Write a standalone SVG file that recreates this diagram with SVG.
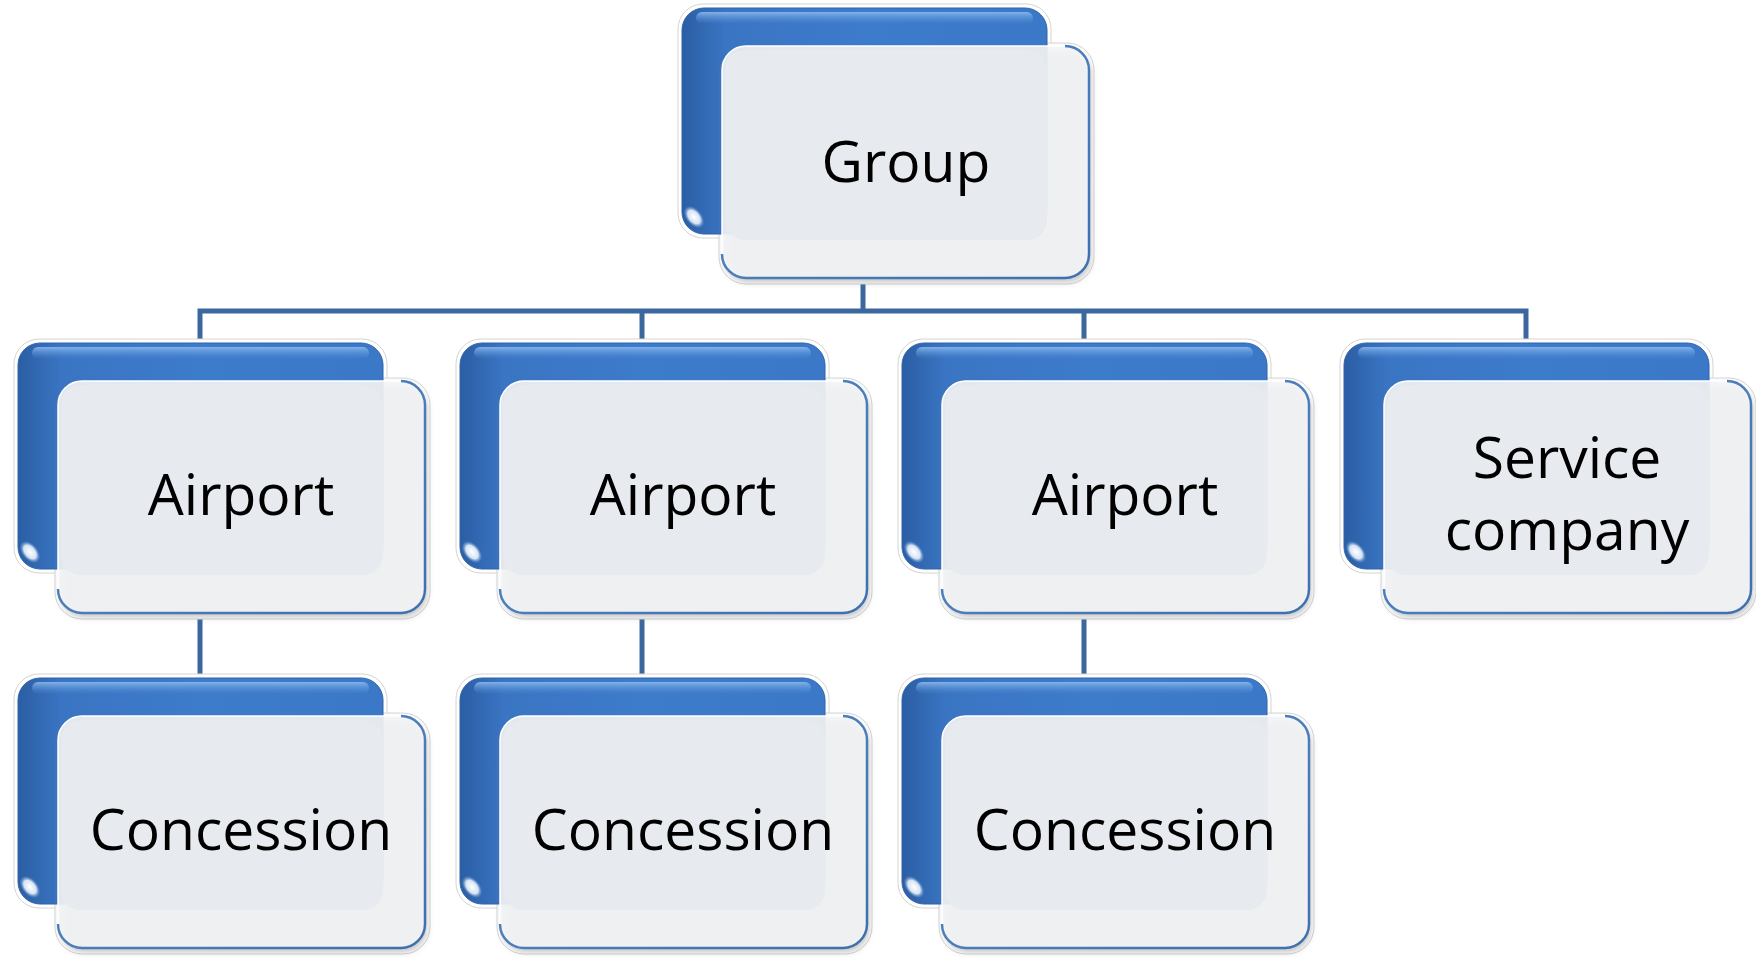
<svg xmlns="http://www.w3.org/2000/svg" width="1756" height="958" viewBox="0 0 1756 958">
<defs>
<linearGradient id="gBack" x1="0" y1="0" x2="1" y2="0">
<stop offset="0" stop-color="#2b5ea4"/>
<stop offset="0.12" stop-color="#3a75c3"/>
<stop offset="0.5" stop-color="#3d7bcb"/>
<stop offset="1" stop-color="#3b79c8"/>
</linearGradient>
<linearGradient id="gTop" x1="0" y1="0" x2="0" y2="1">
<stop offset="0" stop-color="#8ab9ee" stop-opacity="0.9"/>
<stop offset="1" stop-color="#5b93da" stop-opacity="0"/>
</linearGradient>
<radialGradient id="gGlint" cx="0.5" cy="0.5" r="0.5">
<stop offset="0" stop-color="#ffffff"/>
<stop offset="0.6" stop-color="#eaf2fc" stop-opacity="0.9"/>
<stop offset="1" stop-color="#6a9ad8" stop-opacity="0"/>
</radialGradient>
<linearGradient id="gEdge" x1="0" y1="0" x2="1" y2="1">
<stop offset="0" stop-color="#9dbde6"/>
<stop offset="0.35" stop-color="#4f81bd"/>
<stop offset="1" stop-color="#3e70b0"/>
</linearGradient>
<filter id="shadow" x="-10%" y="-10%" width="120%" height="130%">
<feGaussianBlur stdDeviation="3"/>
</filter>
</defs>
<style>
.halo{fill:#ffffff;stroke:#d4d4d4;stroke-width:1}
.back{fill:url(#gBack);stroke:#2f64ab;stroke-width:1}
.top{fill:url(#gTop)}
.glint{fill:url(#gGlint)}
.shd{fill:#7a7a7a;fill-opacity:0.45;filter:url(#shadow)}
.front{fill:#f4f5f6;fill-opacity:0.9;stroke:#ffffff;stroke-width:1.5}
.edge{fill:none;stroke:url(#gEdge);stroke-width:2.5}
.inner{fill:#e7eaee}
.conn{stroke:#3b679f;stroke-width:5;fill:none}
.lbl{font-family:"Open Sans","Noto Sans","Liberation Sans",sans-serif;font-size:57px;fill:#000000;text-anchor:middle}
</style>
<rect width="1756" height="958" fill="#ffffff"/>

<g id="connectors">
<path class="conn" d="M863 230 V311 M197.5 311 H1528.5 M200 311 V350 M642 311 V350 M1084 311 V350 M1526 311 V350"/>
<path class="conn" d="M200 560 V685 M642 560 V685 M1084 560 V685"/>
</g>

<g id="node-group" transform="translate(682,8)">
<rect class="halo" x="-4" y="-4" width="373" height="234" rx="25"/>
<rect class="halo" x="37" y="35" width="375" height="241" rx="27"/>
<rect class="back" x="0" y="0" width="365" height="226" rx="22"/>
<rect class="top" x="14" y="4" width="337" height="12" rx="6"/>
<ellipse class="glint" cx="12" cy="209" rx="13" ry="8" transform="rotate(50 12 209)"/>
<rect class="shd" x="42" y="42" width="367" height="232" rx="24"/>
<rect class="front" x="40" y="38" width="367" height="232" rx="24"/>
<path class="edge" d="M383 38 A24 24 0 0 1 407 62 V246 A24 24 0 0 1 383 270 H64 A24 24 0 0 1 40 246"/>
<rect class="inner" x="43" y="42" width="322" height="190" rx="20"/>
<text class="lbl" x="224" y="174">Group</text>
</g>

<g id="node-airport-1" transform="translate(18,343)">
<rect class="halo" x="-4" y="-4" width="373" height="234" rx="25"/>
<rect class="halo" x="37" y="35" width="375" height="241" rx="27"/>
<rect class="back" x="0" y="0" width="365" height="226" rx="22"/>
<rect class="top" x="14" y="4" width="337" height="12" rx="6"/>
<ellipse class="glint" cx="12" cy="209" rx="13" ry="8" transform="rotate(50 12 209)"/>
<rect class="shd" x="42" y="42" width="367" height="232" rx="24"/>
<rect class="front" x="40" y="38" width="367" height="232" rx="24"/>
<path class="edge" d="M383 38 A24 24 0 0 1 407 62 V246 A24 24 0 0 1 383 270 H64 A24 24 0 0 1 40 246"/>
<rect class="inner" x="43" y="42" width="322" height="190" rx="20"/>
<text class="lbl" x="223" y="172">Airport</text>
</g>

<g id="node-airport-2" transform="translate(460,343)">
<rect class="halo" x="-4" y="-4" width="373" height="234" rx="25"/>
<rect class="halo" x="37" y="35" width="375" height="241" rx="27"/>
<rect class="back" x="0" y="0" width="365" height="226" rx="22"/>
<rect class="top" x="14" y="4" width="337" height="12" rx="6"/>
<ellipse class="glint" cx="12" cy="209" rx="13" ry="8" transform="rotate(50 12 209)"/>
<rect class="shd" x="42" y="42" width="367" height="232" rx="24"/>
<rect class="front" x="40" y="38" width="367" height="232" rx="24"/>
<path class="edge" d="M383 38 A24 24 0 0 1 407 62 V246 A24 24 0 0 1 383 270 H64 A24 24 0 0 1 40 246"/>
<rect class="inner" x="43" y="42" width="322" height="190" rx="20"/>
<text class="lbl" x="223" y="172">Airport</text>
</g>

<g id="node-airport-3" transform="translate(902,343)">
<rect class="halo" x="-4" y="-4" width="373" height="234" rx="25"/>
<rect class="halo" x="37" y="35" width="375" height="241" rx="27"/>
<rect class="back" x="0" y="0" width="365" height="226" rx="22"/>
<rect class="top" x="14" y="4" width="337" height="12" rx="6"/>
<ellipse class="glint" cx="12" cy="209" rx="13" ry="8" transform="rotate(50 12 209)"/>
<rect class="shd" x="42" y="42" width="367" height="232" rx="24"/>
<rect class="front" x="40" y="38" width="367" height="232" rx="24"/>
<path class="edge" d="M383 38 A24 24 0 0 1 407 62 V246 A24 24 0 0 1 383 270 H64 A24 24 0 0 1 40 246"/>
<rect class="inner" x="43" y="42" width="322" height="190" rx="20"/>
<text class="lbl" x="223" y="172">Airport</text>
</g>

<g id="node-service" transform="translate(1344,343)">
<rect class="halo" x="-4" y="-4" width="373" height="234" rx="25"/>
<rect class="halo" x="37" y="35" width="375" height="241" rx="27"/>
<rect class="back" x="0" y="0" width="365" height="226" rx="22"/>
<rect class="top" x="14" y="4" width="337" height="12" rx="6"/>
<ellipse class="glint" cx="12" cy="209" rx="13" ry="8" transform="rotate(50 12 209)"/>
<rect class="shd" x="42" y="42" width="367" height="232" rx="24"/>
<rect class="front" x="40" y="38" width="367" height="232" rx="24"/>
<path class="edge" d="M383 38 A24 24 0 0 1 407 62 V246 A24 24 0 0 1 383 270 H64 A24 24 0 0 1 40 246"/>
<rect class="inner" x="43" y="42" width="322" height="190" rx="20"/>
<text class="lbl" x="223" y="135">Service</text>
<text class="lbl" x="223" y="207">company</text>
</g>

<g id="node-concession-1" transform="translate(18,678)">
<rect class="halo" x="-4" y="-4" width="373" height="234" rx="25"/>
<rect class="halo" x="37" y="35" width="375" height="241" rx="27"/>
<rect class="back" x="0" y="0" width="365" height="226" rx="22"/>
<rect class="top" x="14" y="4" width="337" height="12" rx="6"/>
<ellipse class="glint" cx="12" cy="209" rx="13" ry="8" transform="rotate(50 12 209)"/>
<rect class="shd" x="42" y="42" width="367" height="232" rx="24"/>
<rect class="front" x="40" y="38" width="367" height="232" rx="24"/>
<path class="edge" d="M383 38 A24 24 0 0 1 407 62 V246 A24 24 0 0 1 383 270 H64 A24 24 0 0 1 40 246"/>
<rect class="inner" x="43" y="42" width="322" height="190" rx="20"/>
<text class="lbl" x="223" y="172">Concession</text>
</g>

<g id="node-concession-2" transform="translate(460,678)">
<rect class="halo" x="-4" y="-4" width="373" height="234" rx="25"/>
<rect class="halo" x="37" y="35" width="375" height="241" rx="27"/>
<rect class="back" x="0" y="0" width="365" height="226" rx="22"/>
<rect class="top" x="14" y="4" width="337" height="12" rx="6"/>
<ellipse class="glint" cx="12" cy="209" rx="13" ry="8" transform="rotate(50 12 209)"/>
<rect class="shd" x="42" y="42" width="367" height="232" rx="24"/>
<rect class="front" x="40" y="38" width="367" height="232" rx="24"/>
<path class="edge" d="M383 38 A24 24 0 0 1 407 62 V246 A24 24 0 0 1 383 270 H64 A24 24 0 0 1 40 246"/>
<rect class="inner" x="43" y="42" width="322" height="190" rx="20"/>
<text class="lbl" x="223" y="172">Concession</text>
</g>

<g id="node-concession-3" transform="translate(902,678)">
<rect class="halo" x="-4" y="-4" width="373" height="234" rx="25"/>
<rect class="halo" x="37" y="35" width="375" height="241" rx="27"/>
<rect class="back" x="0" y="0" width="365" height="226" rx="22"/>
<rect class="top" x="14" y="4" width="337" height="12" rx="6"/>
<ellipse class="glint" cx="12" cy="209" rx="13" ry="8" transform="rotate(50 12 209)"/>
<rect class="shd" x="42" y="42" width="367" height="232" rx="24"/>
<rect class="front" x="40" y="38" width="367" height="232" rx="24"/>
<path class="edge" d="M383 38 A24 24 0 0 1 407 62 V246 A24 24 0 0 1 383 270 H64 A24 24 0 0 1 40 246"/>
<rect class="inner" x="43" y="42" width="322" height="190" rx="20"/>
<text class="lbl" x="223" y="172">Concession</text>
</g>
</svg>
